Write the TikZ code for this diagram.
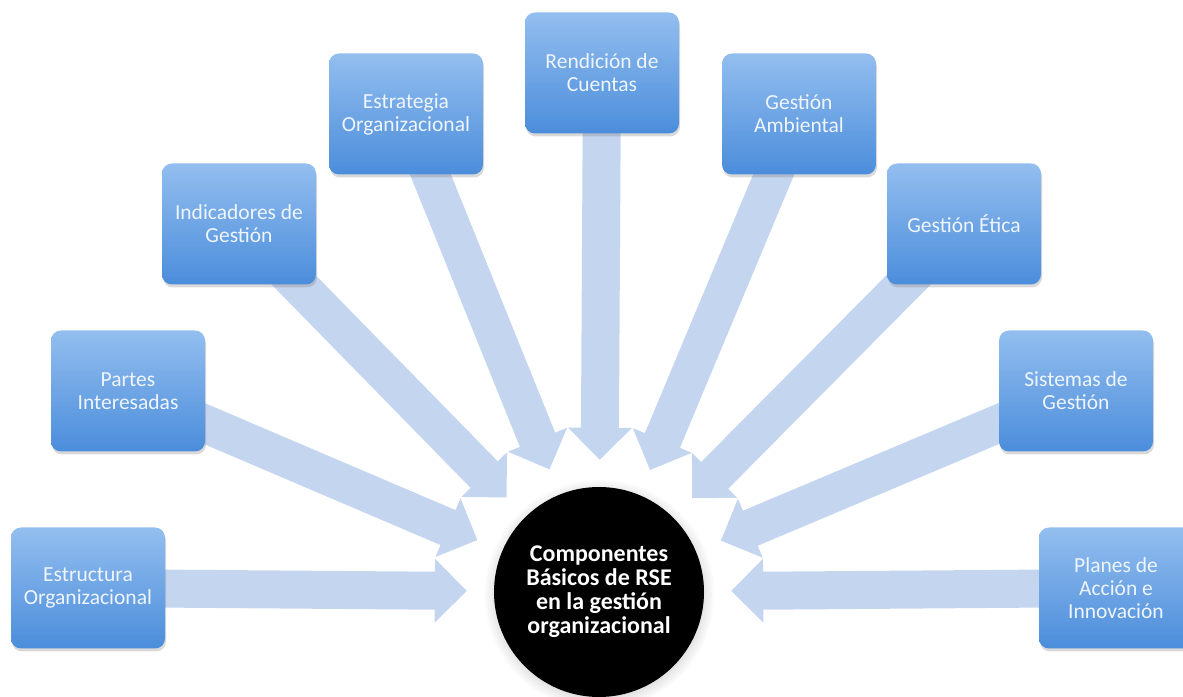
\documentclass[tikz,border=0pt]{standalone}
\usepackage{fontspec}
\setmainfont{Carlito}
\usepackage{xcolor}
\usetikzlibrary{arrows.meta,shadows,backgrounds}
\definecolor{cajaarriba}{HTML}{93BEEF}
\definecolor{cajaabajo}{HTML}{4B8DDB}
\definecolor{flechaazul}{HTML}{C4D5EF}

\begin{document}
\begin{tikzpicture}[x=1pt,y=1pt,
  caja/.style={rectangle, rounded corners=10pt, minimum width=154pt, minimum height=121pt,
    top color=cajaarriba, bottom color=cajaabajo, text=white!85!cajaarriba, align=center,
    font=\fontsize{21.5}{23}\selectfont,
    drop shadow={shadow xshift=1pt, shadow yshift=-3pt, opacity=0.3}},
  flecha/.style={draw=flechaazul, line width=38pt, -{Triangle[width=62pt,length=32pt]}, shorten >=27pt}]
\useasboundingbox (0,0) rectangle (1183,696);
\node[circle, fill=black, minimum size=210pt, inner sep=0pt, text=white, align=center,
  font=\bfseries\fontsize{24}{24}\selectfont,
  circular drop shadow={shadow xshift=0pt, shadow yshift=-2pt, opacity=0.3}] (rse) at (599,104)
  {Componentes\\Básicos de RSE\\en la gestión\\organizacional};
\node[caja] (estructura) at (88,108) {Estructura\\Organizacional};
\node[caja] (partes) at (128,305) {Partes\\Interesadas};
\node[caja] (indicadores) at (239,472) {Indicadores de\\Gestión};
\node[caja] (estrategia) at (406,582) {Estrategia\\Organizacional};
\node[caja] (rendicion) at (602,623) {Rendición de\\Cuentas};
\node[caja] (ambiental) at (799,582) {Gestión\\Ambiental};
\node[caja] (etica) at (964,472) {Gestión Ética};
\node[caja] (sistemas) at (1076,305) {Sistemas de\\Gestión};
\node[caja] (planes) at (1116,108) {Planes de\\Acción e\\Innovación};
\begin{scope}[on background layer]
\foreach \c in {estructura,partes,indicadores,estrategia,rendicion,ambiental,etica,sistemas,planes}
  \draw[flecha] (\c.center) -- (rse);
\end{scope}
\end{tikzpicture}
\end{document}
